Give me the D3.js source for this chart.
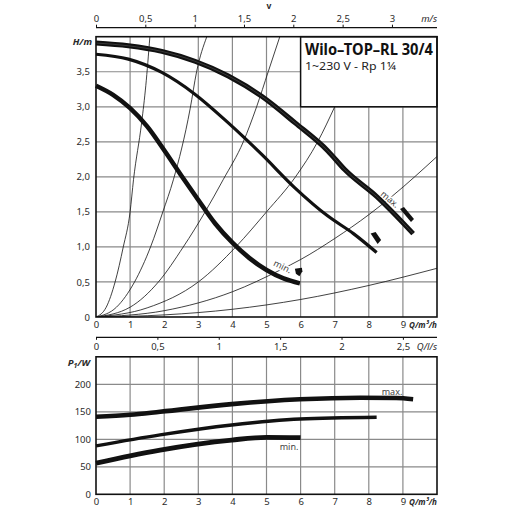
<!DOCTYPE html>
<html><head><meta charset="utf-8">
<script src="https://cdn.jsdelivr.net/npm/d3@7"></script>
<style>
html,body{margin:0;padding:0;background:#fff;}
svg{display:block;font-family:"Noto Sans",sans-serif;}
</style></head>
<body><svg id="c" width="508" height="508"></svg>
<script>
// ---- data ----
const Q_TICKS = [0,1,2,3,4,5,6,7,8,9];
const H_TICKS = [0,0.5,1,1.5,2,2.5,3,3.5];
const H_LABELS = ["0","0,5","1,0","1,5","2,0","2,5","3,0","3,5"];
const V_TICKS = [0,0.5,1,1.5,2,2.5,3];
const V_LABELS = ["0","0,5","1","1,5","2","2,5","3"];
const QLS_TICKS = [0,0.5,1,1.5,2,2.5];
const QLS_LABELS = ["0","0,5","1","1,5","2","2,5"];
const P_TICKS = [0,50,100,150,200];

// pump curves H(Q)
const maxQ = [0,0.95,1.93,2.9,3.88,4.86,5.84,6.8,7.3,8.23,9.3];
const maxH = [3.91,3.87,3.79,3.65,3.44,3.15,2.77,2.37,2.1,1.72,1.19];
const midQ = [0,0.95,1.93,2.9,3.88,4.86,5.84,6.8,7.55,8.23];
const midH = [3.75,3.68,3.49,3.18,2.77,2.32,1.84,1.44,1.19,0.92];
const minQ = [0,0.5,1.0,1.5,2.0,2.5,3.0,3.5,4.0,4.5,5.0,5.5,5.98];
const minH = [3.30,3.17,2.98,2.72,2.38,2.02,1.67,1.33,1.06,0.84,0.67,0.55,0.48];

// system curves (thin)
const sys1Q = [0,0.3,0.56,0.8,1.0,1.1,1.34,1.46,1.58];
const sys1H = [0,0.14,0.5,1.0,1.5,1.96,2.78,3.3,4.0];
const sys2Q = [0,0.6,1.13,1.6,1.96,2.27,2.76,2.95,3.25];
const sys2H = [0,0.14,0.5,1.0,1.5,1.96,2.97,3.5,4.0];
const sys3Q = [0,1.0,1.83,2.56,3.2,3.73,4.32,4.71,5.05,5.39];
const sys3H = [0,0.14,0.5,1.0,1.5,1.96,2.5,3.0,3.5,4.0];
const sys4Q = [0,1.5,3.0,4.1,5.0,5.85,6.5,7.0];
const sys4H = [0,0.13,0.5,1.0,1.5,2.0,2.5,3.0];
const sys5Q = [0,2,4,5.4,6,7,8,8.7,10];
const sys5H = [0,0.09,0.36,0.67,0.82,1.12,1.46,1.73,2.29];
const sys6Q = [0,2,4,6,8,10];
const sys6H = [0,0.03,0.11,0.25,0.45,0.695];

// end-point markers
const MARK_Q = [9.12,8.2,5.95];
const MARK_H = [1.455,1.12,0.64];

// power curves P1(Q)
const pMaxQ = [0,1,1.88,3.98,5.98,7.75,8.8,9.3];
const pMaxP = [141,144.5,150,164,172.7,175.6,175,172.7];
const pMidQ = [0,1.88,3.98,5.98,8.23];
const pMidP = [88,108,126,137,140];
const pMinQ = [0,1,1.88,3.98,5.0,6.0];
const pMinP = [56.5,70,80.5,98.7,103.6,103];

const TITLE = "Wilo–TOP–RL 30/4";
const SUBTITLE = "1~230 V - Rp 1¼";

// ---- layout ----
const svg = d3.select("#c");
const x = d3.scaleLinear().domain([0,10]).range([96,437]);
const y = d3.scaleLinear().domain([0,4]).range([317,36.7]);
const v = d3.scaleLinear().domain([0,10/2.893]).range([96,437]);
const qls = d3.scaleLinear().domain([0,10/3.6]).range([96,437]);
const yp = d3.scaleLinear().domain([0,250]).range([494.3,356.8]);

const GRID = "#8a8a8a", TXT = "#2a2a2a";
const pts = (qs,vs)=>qs.map((q,i)=>[q,vs[i]]);

// ---- top chart ----
const gTop = svg.append("g");
gTop.selectAll(".gv").data(d3.range(1,10)).join("line")
  .attr("x1",d=>x(d)).attr("x2",d=>x(d)).attr("y1",y(0)).attr("y2",y(4))
  .attr("stroke",GRID).attr("stroke-width",1.2);
gTop.selectAll(".gh").data(d3.range(0.5,4,0.5)).join("line")
  .attr("x1",x(0)).attr("x2",x(10)).attr("y1",d=>y(d)).attr("y2",d=>y(d))
  .attr("stroke",GRID).attr("stroke-width",1.2);

svg.append("clipPath").attr("id","ct").append("rect")
  .attr("x",x(0)).attr("y",y(4)).attr("width",x(10)-x(0)).attr("height",y(0)-y(4));
const lineH = d3.line().x(d=>x(d[0])).y(d=>y(d[1])).curve(d3.curveMonotoneX);
const sysG = gTop.append("g").attr("clip-path","url(#ct)");
[[sys1Q,sys1H],[sys2Q,sys2H],[sys3Q,sys3H],[sys4Q,sys4H],[sys5Q,sys5H],[sys6Q,sys6H]].forEach(([q,h])=>{
  sysG.append("path").datum(pts(q,h)).attr("d",lineH)
    .attr("fill","none").attr("stroke","#111").attr("stroke-width",0.8);
});

function curveLabel(g,q,h,rot,txt){
  g.append("text").attr("transform",`translate(${x(q)},${y(h)}) rotate(${rot})`)
    .attr("text-anchor","middle").attr("dy","0.35em")
    .attr("font-size",9).attr("fill","#444")
    .attr("stroke","#fff").attr("stroke-width",3).attr("paint-order","stroke")
    .text(txt);
}
curveLabel(gTop,5.47,0.72,26,"min.");
curveLabel(gTop,8.62,1.68,40,"max.");

gTop.append("path").datum(pts(maxQ,maxH)).attr("d",lineH)
  .attr("fill","none").attr("stroke","#111").attr("stroke-width",5);
gTop.append("path").datum(pts(maxQ,maxH)).attr("d",lineH)
  .attr("fill","none").attr("stroke","#4a4a4a").attr("stroke-width",0.7);
gTop.append("path").datum(pts(midQ,midH)).attr("d",lineH)
  .attr("fill","none").attr("stroke","#111").attr("stroke-width",3.2);
gTop.append("path").datum(pts(minQ,minH)).attr("d",lineH)
  .attr("fill","none").attr("stroke","#111").attr("stroke-width",4.6);

const shapes = [
  "M-7,-6 L-3,-8 L7,4 L4,7 Z",
  "M-5,-5 L0,-6.5 L5.5,1.5 L2,5.5 Z",
  "M-4,-3.5 L3,-4.5 L3.5,-1 L0.5,4 L-3,1.5 Z"
];
MARK_Q.forEach((q,i)=>{
  gTop.append("path").attr("d",shapes[i])
    .attr("transform",`translate(${x(q)},${y(MARK_H[i])})`)
    .attr("fill","#111");
});

gTop.append("rect").attr("x",x(6)).attr("y",y(4)).attr("width",x(10)-x(6)).attr("height",y(3)-y(4))
  .attr("fill","#fff").attr("stroke","#111").attr("stroke-width",1.5);
gTop.append("text").attr("x",305).attr("y",54.5).attr("font-size",15.5).attr("font-weight",700)
  .attr("fill","#111").attr("textLength",128).attr("lengthAdjust","spacingAndGlyphs").text(TITLE);
gTop.append("text").attr("x",305).attr("y",70).attr("font-size",10.8)
  .attr("fill","#222").attr("textLength",91).attr("lengthAdjust","spacingAndGlyphs").text(SUBTITLE);

gTop.append("rect").attr("x",x(0)).attr("y",y(4)).attr("width",x(10)-x(0)).attr("height",y(0)-y(4))
  .attr("fill","none").attr("stroke","#111").attr("stroke-width",1.6);

function styleAxis(g){
  g.selectAll("text").attr("font-size",9.5).attr("fill",TXT).attr("font-family","Noto Sans");
  g.selectAll("line").attr("stroke","#111");
  g.select(".domain").attr("stroke","#111");
}
const axQ = gTop.append("g").attr("transform",`translate(0,${y(0)})`)
  .call(d3.axisBottom(x).tickValues(Q_TICKS).tickSize(0).tickPadding(4.5).tickFormat(d3.format("d")));
axQ.select(".domain").remove(); styleAxis(axQ);
const axH = gTop.append("g").attr("transform",`translate(${x(0)},0)`)
  .call(d3.axisLeft(y).tickValues(H_TICKS).tickSize(0).tickPadding(6).tickFormat((d,i)=>H_LABELS[i]));
axH.select(".domain").remove(); styleAxis(axH);
const axV = gTop.append("g").attr("transform","translate(0,27.7)")
  .call(d3.axisTop(v).tickValues(V_TICKS).tickSize(3).tickSizeOuter(0).tickPadding(3).tickFormat((d,i)=>V_LABELS[i]));
styleAxis(axV);
axV.select(".domain").attr("d",`M${x(0)},0H${x(10)}`).attr("stroke-width",1.2);

gTop.append("text").attr("x",x(10)).attr("y",22).attr("text-anchor","end").attr("font-size",9.5)
  .attr("font-style","italic").attr("fill",TXT).text("m/s");
gTop.append("text").attr("x",269).attr("y",9).attr("text-anchor","middle").attr("font-size",8.5)
  .attr("font-weight",700).attr("fill",TXT).text("v");
gTop.append("text").attr("x",92).attr("y",44.5).attr("text-anchor","end").attr("font-size",9.5)
  .attr("font-style","italic").attr("font-weight",700).attr("fill",TXT).text("H/m");
gTop.append("text").attr("x",x(10)).attr("y",328).attr("text-anchor","end").attr("font-size",9.5)
  .attr("font-style","italic").attr("font-weight",700).attr("fill",TXT)
  .attr("textLength",28).attr("lengthAdjust","spacingAndGlyphs").text("Q/m³/h");

// ---- bottom chart ----
const gBot = svg.append("g");
gBot.selectAll(".gv").data(d3.range(1,10)).join("line")
  .attr("x1",d=>x(d)).attr("x2",d=>x(d)).attr("y1",yp(0)).attr("y2",yp(250))
  .attr("stroke",GRID).attr("stroke-width",1.2);
gBot.selectAll(".gh").data([50,100,150,200]).join("line")
  .attr("x1",x(0)).attr("x2",x(10)).attr("y1",d=>yp(d)).attr("y2",d=>yp(d))
  .attr("stroke",GRID).attr("stroke-width",1.2);

const lineP = d3.line().x(d=>x(d[0])).y(d=>yp(d[1])).curve(d3.curveMonotoneX);
gBot.append("path").datum(pts(pMaxQ,pMaxP)).attr("d",lineP)
  .attr("fill","none").attr("stroke","#111").attr("stroke-width",4.6);
gBot.append("path").datum(pts(pMidQ,pMidP)).attr("d",lineP)
  .attr("fill","none").attr("stroke","#111").attr("stroke-width",3.4);
gBot.append("path").datum(pts(pMinQ,pMinP)).attr("d",lineP)
  .attr("fill","none").attr("stroke","#111").attr("stroke-width",4.8);

gBot.append("text").attr("x",392).attr("y",394.5).attr("text-anchor","middle").attr("font-size",9)
  .attr("fill","#444").text("max.");
gBot.append("text").attr("x",289).attr("y",449.5).attr("text-anchor","middle").attr("font-size",9)
  .attr("fill","#444").text("min.");

gBot.append("rect").attr("x",x(0)).attr("y",yp(250)).attr("width",x(10)-x(0)).attr("height",yp(0)-yp(250))
  .attr("fill","none").attr("stroke","#111").attr("stroke-width",1.6);

const axQ2 = gBot.append("g").attr("transform",`translate(0,${yp(0)})`)
  .call(d3.axisBottom(x).tickValues(Q_TICKS).tickSize(0).tickPadding(4).tickFormat(d3.format("d")));
axQ2.select(".domain").remove(); styleAxis(axQ2);
const axP = gBot.append("g").attr("transform",`translate(${x(0)},0)`)
  .call(d3.axisLeft(yp).tickValues(P_TICKS).tickSize(0).tickPadding(5).tickFormat(d3.format("d")));
axP.select(".domain").remove(); styleAxis(axP);
const axL = gBot.append("g").attr("transform","translate(0,337.3)")
  .call(d3.axisBottom(qls).tickValues(QLS_TICKS).tickSize(2.5).tickSizeOuter(0).tickPadding(3.5).tickFormat((d,i)=>QLS_LABELS[i]));
styleAxis(axL);
axL.select(".domain").attr("d",`M${x(0)},0H${x(10)}`).attr("stroke-width",1.2);

gBot.append("text").attr("x",x(10)).attr("y",350).attr("text-anchor","end").attr("font-size",9.5)
  .attr("font-style","italic").attr("fill",TXT).text("Q/l/s");
const pl = gBot.append("text").attr("x",90).attr("y",366).attr("text-anchor","end").attr("font-size",9.5)
  .attr("font-style","italic").attr("font-weight",700).attr("fill",TXT);
pl.append("tspan").text("P");
pl.append("tspan").attr("font-size",7).attr("dy",2).text("1");
pl.append("tspan").attr("dy",-2).text("/W");
gBot.append("text").attr("x",x(10)).attr("y",505).attr("text-anchor","end").attr("font-size",9.5)
  .attr("font-style","italic").attr("font-weight",700).attr("fill",TXT)
  .attr("textLength",28).attr("lengthAdjust","spacingAndGlyphs").text("Q/m³/h");
</script></body></html>
